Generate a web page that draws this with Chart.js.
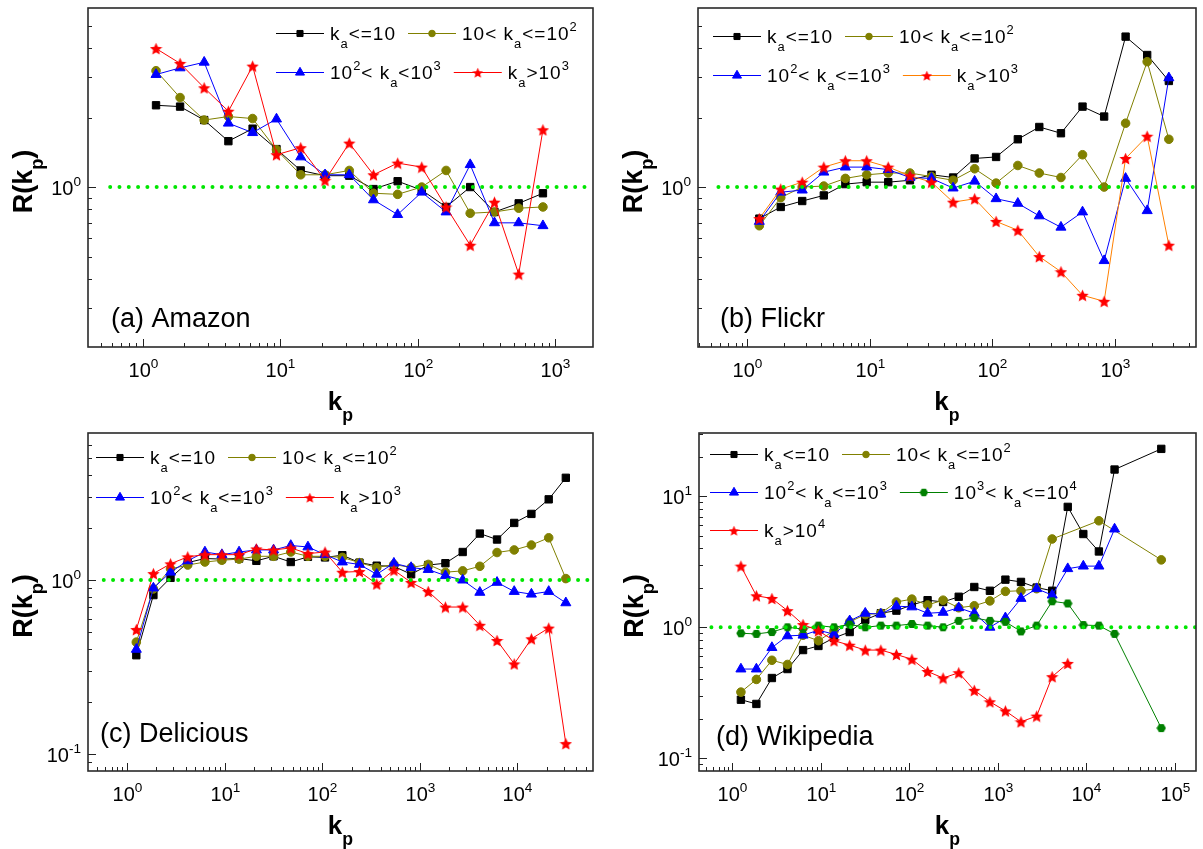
<!DOCTYPE html>
<html>
<head>
<meta charset="utf-8">
<script src="https://cdn.jsdelivr.net/npm/chart.js@4.4.0/dist/chart.umd.min.js"></script>
<style>
  html, body { margin: 0; padding: 0; background: #fff; }
  body { width: 1203px; height: 849px; position: relative; overflow: hidden; }
  .painel { position: absolute; }
</style>
</head>
<body>
<div class="painel" style="left:0;top:0"><canvas id="gA" width="600" height="425"></canvas></div>
<div class="painel" style="left:600px;top:0"><canvas id="gB" width="603" height="425"></canvas></div>
<div class="painel" style="left:0;top:425px"><canvas id="gC" width="600" height="424"></canvas></div>
<div class="painel" style="left:600px;top:425px"><canvas id="gD" width="603" height="424"></canvas></div>

<script>
// valores de k_p (eixo x) de cada painel
const kpA = [1.25, 1.87, 2.8, 4.2, 6.3, 9.4, 14.1, 21.2, 31.8, 47.7, 71.5, 107, 161, 241, 362, 543, 815];
const kpB = [1.25, 1.87, 2.8, 4.2, 6.3, 9.4, 14.1, 21.2, 31.8, 47.7, 71.5, 107, 161, 241, 362, 543, 815, 1220, 1830, 2750];
const kpC = [1.25, 1.87, 2.8, 4.2, 6.3, 9.4, 14.1, 21.2, 31.8, 47.7, 71.5, 107, 161, 241, 362, 543, 815, 1220, 1830, 2750, 4120, 6180, 9270, 13900, 20900, 31300];
const kpD = [1.25, 1.87, 2.8, 4.2, 6.3, 9.4, 14.1, 21.2, 31.8, 47.7, 71.5, 107, 161, 241, 362, 543, 815, 1220, 1830, 2750, 4120, 6180, 9270, 13900, 20900, 31300, 47000, 70500];

// (a) Amazon
const pretoA = [2.26, 2.23, 1.95, 1.58, 1.79, 1.46, 1.18, 1.12, 1.12, 0.98, 1.06, 0.97, 0.82, 1.0, 0.78, 0.85, 0.94];
const olivaA = [3.19, 2.44, 1.95, 2.02, 1.98, 1.45, 1.13, 1.13, 1.18, 0.94, 0.93, 1.0, 1.18, 0.77, 0.78, 0.81, 0.82];
const azulA = [3.07, 3.28, 3.47, 1.89, 1.72, 1.97, 1.35, 1.13, 1.13, 0.88, 0.76, 0.95, 0.78, 1.25, 0.70, 0.70, 0.68];
const vermA = [3.98, 3.43, 2.69, 2.13, 3.34, 1.38, 1.48, 1.07, 1.55, 1.13, 1.27, 1.22, 0.82, 0.56, 0.86, 0.42, 1.77];

// (b) Flickr
const pretoB = [0.73, 0.82, 0.87, 0.92, 1.03, 1.05, 1.05, 1.07, 1.13, 1.1, 1.33, 1.35, 1.61, 1.82, 1.71, 2.23, 2.02, 4.48, 3.73, 2.88];
const olivaB = [0.68, 0.90, 1.0, 1.01, 1.09, 1.13, 1.15, 1.15, 1.11, 1.07, 1.2, 1.04, 1.24, 1.15, 1.1, 1.38, 1.0, 1.89, 3.49, 1.61];
const azulB = [0.71, 0.95, 0.97, 1.16, 1.22, 1.22, 1.19, 1.1, 1.09, 0.99, 1.06, 0.89, 0.85, 0.75, 0.67, 0.78, 0.48, 1.09, 0.79, 2.97];
const vermB = [0.73, 0.98, 1.05, 1.22, 1.3, 1.3, 1.22, 1.12, 1.05, 0.86, 0.89, 0.71, 0.65, 0.5, 0.43, 0.34, 0.32, 1.33, 1.66, 0.56];

// (c) Delicious
const pretoC = [0.37, 0.82, 1.03, 1.26, 1.33, 1.32, 1.33, 1.29, 1.37, 1.27, 1.36, 1.35, 1.39, 1.26, 1.21, 1.2, 1.08, 1.22, 1.25, 1.45, 1.85, 1.71, 2.13, 2.4, 2.91, 3.87];
const olivaC = [0.44, 0.89, 1.16, 1.22, 1.27, 1.3, 1.32, 1.37, 1.37, 1.45, 1.37, 1.37, 1.35, 1.26, 1.18, 1.23, 1.18, 1.23, 1.11, 1.13, 1.2, 1.44, 1.49, 1.59, 1.75, 1.02];
const azulC = [0.40, 0.90, 1.11, 1.29, 1.45, 1.4, 1.45, 1.49, 1.49, 1.58, 1.55, 1.4, 1.27, 1.23, 1.08, 1.25, 1.18, 1.15, 1.06, 1.0, 0.85, 0.97, 0.86, 0.83, 0.86, 0.74];
const vermC = [0.52, 1.09, 1.24, 1.36, 1.4, 1.4, 1.4, 1.51, 1.49, 1.53, 1.42, 1.45, 1.11, 1.12, 0.95, 1.14, 0.97, 0.86, 0.70, 0.70, 0.55, 0.45, 0.33, 0.46, 0.53, 0.115];

// (d) Wikipedia (null = sem ponto)
const pretoD = [0.28, 0.26, 0.41, 0.48, 0.67, 0.72, 0.83, 0.92, 1.14, 1.28, 1.34, 1.48, 1.61, 1.56, 1.71, 2.03, 1.9, 2.31, 2.22, 2.01, 1.9, 8.3, 5.15, 3.79, 16.0, null, null, 23.0];
const olivaD = [0.32, 0.40, 0.56, 0.52, 0.87, 0.79, 0.94, 1.1, 1.25, 1.28, 1.56, 1.64, 1.48, 1.61, 1.41, 1.46, 1.59, 1.88, 1.9, 1.97, 4.72, null, null, 6.5, null, null, null, 3.27];
const azulD = [0.48, 0.48, 0.70, 0.86, 0.87, 0.95, 0.885, 1.12, 1.28, 1.26, 1.45, 1.43, 1.28, 1.3, 1.41, 1.28, 1.0, 1.18, 1.66, 1.97, 1.76, 2.8, 2.93, 2.93, 5.62, null, null, null];
const verdeD = [0.90, 0.89, 0.92, 1.0, 0.97, 1.03, 1.0, 1.05, 1.0, 1.03, 1.03, 1.06, 1.03, 1.0, 1.12, 1.18, 1.12, 1.1, 0.93, 1.03, 1.58, 1.52, 1.04, 1.03, 0.89, null, null, 0.17];
const vermD = [2.93, 1.74, 1.66, 1.34, 1.05, 0.94, 0.79, 0.73, 0.67, 0.67, 0.62, 0.57, 0.46, 0.41, 0.45, 0.33, 0.27, 0.23, 0.19, 0.21, 0.42, 0.53, null, null, null, null, null, null];

// legendas (_{} = subscrito, ^{} = sobrescrito)
const legA = ["k_{a}<=10", "10< k_{a}<=10^{2}", "10^{2}< k_{a}<10^{3}", "k_{a}>10^{3}"];
const legB = ["k_{a}<=10", "10< k_{a}<=10^{2}", "10^{2}< k_{a}<=10^{3}", "k_{a}>10^{3}"];
const legC = ["k_{a}<=10", "10< k_{a}<=10^{2}", "10^{2}< k_{a}<=10^{3}", "k_{a}>10^{3}"];
const legD = ["k_{a}<=10", "10< k_{a}<=10^{2}", "10^{2}< k_{a}<=10^{3}", "10^{3}< k_{a}<=10^{4}", "k_{a}>10^{4}"];

// ticks principais
const xTicksA = [1, 10, 100, 1000];
const xTicksB = [1, 10, 100, 1000];
const xTicksC = [1, 10, 100, 1000, 10000];
const xTicksD = [1, 10, 100, 1000, 10000, 100000];
const yTicksAB = [1];
const yTicksC = [0.1, 1];
const yTicksD = [0.1, 1, 10];

// linha de referencia R = 1
const refX = [0.58];
const refY = [1, 1];

const FONTE = "'Liberation Sans', Arial, sans-serif";

function marcador(tipo, cor, tam) {
  const c = document.createElement("canvas");
  c.width = tam; c.height = tam;
  const g = c.getContext("2d");
  const R = tam / 2;
  g.beginPath();
  if (tipo === "estrela") {
    for (let k = 0; k < 10; k++) {
      const ang = -Math.PI / 2 + k * Math.PI / 5;
      const rad = k % 2 ? R * 0.46 : R;
      g.lineTo(R + rad * Math.cos(ang), R + 0.7 + rad * Math.sin(ang));
    }
  } else {
    for (let k = 0; k < 6; k++) {
      const ang = k * Math.PI / 3;
      g.lineTo(R + (R - 0.3) * Math.cos(ang), R + (R - 0.3) * Math.sin(ang));
    }
  }
  g.closePath();
  g.fillStyle = cor;
  g.fill();
  return c;
}

const estrela = marcador("estrela", "#ff0000", 13);
const estrelaLeg = marcador("estrela", "#ff0000", 11);
const hexagono = marcador("hex", "#008000", 10);
const hexagonoLeg = marcador("hex", "#008000", 9);

const estilos = {
  quad: { cor: "#000000", linha: "#000000", forma: "rect", raio: 5.2, formaLeg: "rect", raioLeg: 4.3 },
  circ: { cor: "#808000", linha: "#808000", forma: "circle", raio: 4.3, formaLeg: "circle", raioLeg: 3.3 },
  tri: { cor: "#0000ff", linha: "#0000ff", forma: "triangle", raio: 5.8, formaLeg: "triangle", raioLeg: 5.2 },
  estr: { cor: "#ff0000", linha: "#ff0000", forma: estrela, raio: 6, formaLeg: estrelaLeg, raioLeg: 5 },
  estrLaranja: { cor: "#ff0000", linha: "#ff8000", forma: estrela, raio: 6, formaLeg: estrelaLeg, raioLeg: 5 },
  hex: { cor: "#008000", linha: "#008000", forma: hexagono, raio: 5, formaLeg: hexagonoLeg, raioLeg: 4.5 }
};

// texto com sub/sobrescrito
function partes(s) {
  const out = [];
  let buf = "";
  let i = 0;
  while (i < s.length) {
    const c = s[i];
    if ((c === "_" || c === "^") && s[i + 1] === "{") {
      if (buf) { out.push({ t: buf, k: 0 }); buf = ""; }
      const j = s.indexOf("}", i);
      out.push({ t: s.slice(i + 2, j), k: c === "_" ? 1 : -1 });
      i = j + 1;
    } else {
      buf += c;
      i++;
    }
  }
  if (buf) out.push({ t: buf, k: 0 });
  return out;
}

function fonte(ctx, tam, negrito) {
  ctx.font = (negrito ? "bold " : "") + tam + "px " + FONTE;
}

function textoRico(ctx, s, x, y, tam, negrito, alinh, espaco) {
  const ps = partes(s);
  ctx.save();
  ctx.letterSpacing = (espaco || 0) + "px";
  ctx.textAlign = "left";
  ctx.textBaseline = "alphabetic";
  ctx.fillStyle = "#000";
  let larg = 0;
  for (const p of ps) {
    fonte(ctx, p.k ? tam * 0.68 : tam, negrito);
    larg += ctx.measureText(p.t).width;
  }
  let cx = alinh === "center" ? x - larg / 2 : alinh === "right" ? x - larg : x;
  for (const p of ps) {
    fonte(ctx, p.k ? tam * 0.68 : tam, negrito);
    const dy = p.k === 1 ? tam * 0.42 : p.k === -1 ? -tam * 0.45 : 0;
    ctx.fillText(p.t, cx, y + dy);
    cx += ctx.measureText(p.t).width;
  }
  ctx.restore();
  return larg;
}

function menores(min, max) {
  const out = [];
  for (let d = Math.floor(Math.log10(min)); d <= Math.ceil(Math.log10(max)); d++) {
    for (let m = 2; m <= 9; m++) {
      const v = m * Math.pow(10, d);
      if (v > min && v < max) out.push(v);
    }
  }
  return out;
}

function rotulo(v) {
  return "10^{" + Math.round(Math.log10(v)) + "}";
}

// plugin que desenha moldura, ticks internos, rotulos, legenda e nome do painel
function decoracao(p) {
  return {
    id: "decoracao",
    afterDraw(chart) {
      const ctx = chart.ctx;
      const a = chart.chartArea;
      const sx = chart.scales.x;
      const sy = chart.scales.y;

      ctx.save();
      ctx.strokeStyle = "#222";
      ctx.lineWidth = 1;
      for (const v of p.xTicks) {
        const px = Math.round(sx.getPixelForValue(v)) + 0.5;
        ctx.beginPath(); ctx.moveTo(px, a.bottom); ctx.lineTo(px, a.bottom - 8); ctx.stroke();
        textoRico(ctx, rotulo(v), px, a.bottom + 30, 20, false, "center");
      }
      for (const v of menores(p.xMin, p.xMax)) {
        const px = Math.round(sx.getPixelForValue(v)) + 0.5;
        ctx.beginPath(); ctx.moveTo(px, a.bottom); ctx.lineTo(px, a.bottom - 4); ctx.stroke();
      }
      for (const v of p.yTicks) {
        const py = Math.round(sy.getPixelForValue(v)) + 0.5;
        ctx.beginPath(); ctx.moveTo(a.left, py); ctx.lineTo(a.left + 8, py); ctx.stroke();
        textoRico(ctx, rotulo(v), a.left - 7, py + 7, 20, false, "right");
      }
      for (const v of menores(p.yMin, p.yMax)) {
        const py = Math.round(sy.getPixelForValue(v)) + 0.5;
        ctx.beginPath(); ctx.moveTo(a.left, py); ctx.lineTo(a.left + 4, py); ctx.stroke();
      }

      // moldura
      ctx.strokeStyle = "#2a2a2a";
      ctx.lineWidth = 1.6;
      ctx.strokeRect(a.left, a.top, a.right - a.left, a.bottom - a.top);

      // titulos dos eixos
      textoRico(ctx, "k_{p}", (a.left + a.right) / 2, a.bottom + 63, 26, true, "center");
      ctx.save();
      ctx.translate(a.left - 56, (a.top + a.bottom) / 2 + 4);
      ctx.rotate(-Math.PI / 2);
      textoRico(ctx, "R(k_{p})", 0, 0, 27, true, "center");
      ctx.restore();

      // nome do painel
      textoRico(ctx, p.nome, a.left + p.nomeDx, a.bottom - p.nomeDy, 27, false, "left");

      // legenda
      p.linhasLeg.forEach((linha, r) => {
        let cx = p.legX;
        const ly = p.legY[r];
        for (const idx of linha) {
          const e = p.series[idx];
          ctx.strokeStyle = e.linha;
          ctx.lineWidth = 1;
          ctx.beginPath(); ctx.moveTo(cx, ly + 0.5); ctx.lineTo(cx + 48, ly + 0.5); ctx.stroke();
          ctx.fillStyle = e.cor;
          ctx.strokeStyle = e.cor;
          Chart.helpers.drawPoint(ctx, { pointStyle: e.formaLeg, radius: e.raioLeg, borderWidth: 1, rotation: 0 }, cx + 24, ly + 0.5);
          cx += 54;
          const w = textoRico(ctx, p.legendas[idx], cx, ly + 7, 19, false, "left", 1);
          cx += w + 12;
        }
      });
      ctx.restore();
    }
  };
}

function serie(kp, vals, e, ordem) {
  const pts = [];
  kp.forEach((x, i) => { if (vals[i] != null) pts.push({ x: x, y: vals[i] }); });
  return {
    data: pts,
    borderColor: e.linha,
    borderWidth: 1,
    backgroundColor: e.cor,
    pointBackgroundColor: e.cor,
    pointBorderColor: e.cor,
    pointBorderWidth: 1,
    pointStyle: e.forma,
    pointRadius: e.raio,
    tension: 0,
    order: ordem
  };
}

function referencia(xMax) {
  return {
    data: [{ x: refX[0], y: refY[0] }, { x: xMax, y: refY[1] }],
    borderColor: "#00e600",
    borderWidth: 4,
    borderDash: [0, 9.3],
    borderCapStyle: "round",
    pointRadius: 0,
    order: 0
  };
}

function criarGrafico(id, p) {
  const datasets = p.series.map((e, i) => serie(p.kp, p.valores[i], e, p.series.length - i));
  datasets.push(referencia(p.xMax));
  new Chart(document.getElementById(id), {
    type: "line",
    data: { datasets: datasets },
    options: {
      responsive: false,
      animation: false,
      devicePixelRatio: 1,
      events: [],
      layout: { padding: p.padding },
      plugins: { legend: { display: false }, tooltip: { enabled: false } },
      scales: {
        x: { type: "logarithmic", min: p.xMin, max: p.xMax, display: false },
        y: { type: "logarithmic", min: p.yMin, max: p.yMax, display: false }
      }
    },
    plugins: [decoracao(p)]
  });
}

criarGrafico("gA", {
  kp: kpA, valores: [pretoA, olivaA, azulA, vermA],
  series: [estilos.quad, estilos.circ, estilos.tri, estilos.estr],
  legendas: legA, linhasLeg: [[0, 1], [2, 3]], legX: 276, legY: [33, 72],
  xTicks: xTicksA, yTicks: yTicksAB,
  xMin: 0.4, xMax: 1885, yMin: 0.203, yMax: 5.96,
  padding: { left: 88, top: 8, right: 5, bottom: 78 },
  nome: "(a) Amazon", nomeDx: 23, nomeDy: 20
});

criarGrafico("gB", {
  kp: kpB, valores: [pretoB, olivaB, azulB, vermB],
  series: [estilos.quad, estilos.circ, estilos.tri, estilos.estrLaranja],
  legendas: legB, linhasLeg: [[0, 1], [2, 3]], legX: 113, legY: [36, 75],
  xTicks: xTicksB, yTicks: yTicksAB,
  xMin: 0.395, xMax: 4580, yMin: 0.203, yMax: 5.96,
  padding: { left: 98, top: 8, right: 1, bottom: 78 },
  nome: "(b) Flickr", nomeDx: 22, nomeDy: 20
});

criarGrafico("gC", {
  kp: kpC, valores: [pretoC, olivaC, azulC, vermC],
  series: [estilos.quad, estilos.circ, estilos.tri, estilos.estr],
  legendas: legC, linhasLeg: [[0, 1], [2, 3]], legX: 96, legY: [32, 72],
  xTicks: xTicksC, yTicks: yTicksC,
  xMin: 0.4, xMax: 59400, yMin: 0.08, yMax: 7.0,
  padding: { left: 88, top: 8, right: 4, bottom: 78 },
  nome: "(c) Delicious", nomeDx: 12, nomeDy: 29
});

criarGrafico("gD", {
  kp: kpD, valores: [pretoD, olivaD, azulD, verdeD, vermD],
  series: [estilos.quad, estilos.circ, estilos.tri, estilos.hex, estilos.estr],
  legendas: legD, linhasLeg: [[0, 1], [2, 3], [4]], legX: 110, legY: [29, 67, 105],
  xTicks: xTicksD, yTicks: yTicksD,
  xMin: 0.42, xMax: 174000, yMin: 0.08, yMax: 30.4,
  padding: { left: 99, top: 8, right: 1, bottom: 78 },
  nome: "(d) Wikipedia", nomeDx: 17, nomeDy: 26
});
</script>
</body>
</html>
